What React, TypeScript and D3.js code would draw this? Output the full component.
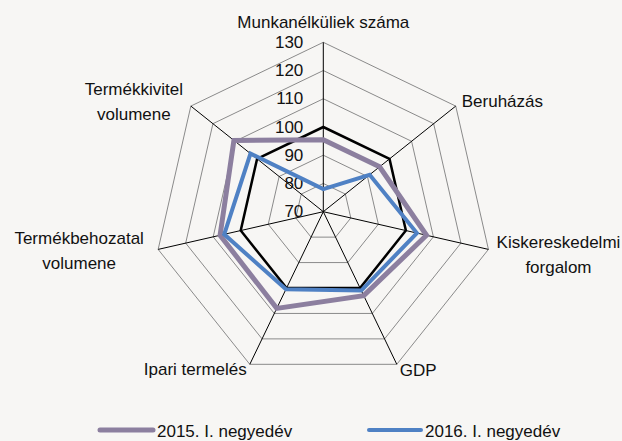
import React from "react";
import * as d3 from "d3";

const categories = [
  "Munkanélküliek száma",
  "Beruházás",
  "Kiskereskedelmi forgalom",
  "GDP",
  "Ipari termelés",
  "Termékbehozatal volumene",
  "Termékkivitel volumene",
];
const labelLines = [
  ["Munkanélküliek száma"],
  ["Beruházás"],
  ["Kiskereskedelmi", "forgalom"],
  ["GDP"],
  ["Ipari termelés"],
  ["Termékbehozatal", "volumene"],
  ["Termékkivitel", "volumene"],
];
const series2015 = [95.5, 95.5, 107.5, 103, 108, 107.5, 110.5];
const series2016 = [78, 91, 104, 101, 100.5, 106, 103];
const baseline = [100, 100, 100, 100, 100, 100, 100];
const ticks = [70, 80, 90, 100, 110, 120, 130];
const seriesNames = ["2015. I. negyedév", "2016. I. negyedév"];

const W = 622;
const H = 441;
const cx = 323.3;
const cy = 211.7;
const R = 169.4;
const FONT = "'Liberation Sans', Arial, sans-serif";

// label placement offsets per axis (anchor, dx, dy of first line baseline)
const labelPlace: [string, number, number][] = [
  ["middle", 0, -14],
  ["start", 6, 1],
  ["middle", 70, -1],
  ["start", 3, 12],
  ["end", -3, 11],
  ["middle", -79, -5],
  ["middle", -57, -11],
];

export default function App() {
  const r = d3.scaleLinear().domain([70, 130]).range([0, R]);
  const angle = d3
    .scalePoint<number>()
    .domain(d3.range(categories.length + 1))
    .range([0, 2 * Math.PI]);
  const pt = (i: number, v: number): [number, number] => {
    const a = angle(i)!;
    return [cx + r(v) * Math.sin(a), cy - r(v) * Math.cos(a)];
  };
  const closed = d3.line<[number, number]>().curve(d3.curveLinearClosed);
  const poly = (vals: number[]) => closed(vals.map((v, i) => pt(i, v)))!;

  return (
    <svg width={W} height={H} style={{ display: "block", position: "absolute", left: 0, top: 0, background: "#f7f6f4" }}>
      <rect width={W} height={H} fill="#f7f6f4" />
      {ticks.slice(1).map((t) => (
        <path key={t} d={poly(categories.map(() => t))} fill="none" stroke="#8a8a8a" strokeWidth={1} />
      ))}
      {categories.map((c, i) => {
        const [x, y] = pt(i, 130);
        return <line key={c} x1={cx} y1={cy} x2={x} y2={y} stroke="#000" strokeWidth={1} />;
      })}
      {ticks.map((t) => (
        <text key={t} x={cx - 20} y={cy - r(t)} textAnchor="end" dominantBaseline="central" fontFamily={FONT} fontSize={17} fill="#111">
          {t}
        </text>
      ))}
      <path d={poly(baseline)} fill="none" stroke="#000" strokeWidth={2.5} strokeLinejoin="miter" />
      <path d={poly(series2015)} fill="none" stroke="#8c7f9f" strokeWidth={5} strokeLinejoin="miter" />
      <path d={poly(series2016)} fill="none" stroke="#4f81c4" strokeWidth={4} strokeLinejoin="miter" />
      {labelLines.map((lines, i) => {
        const [x, y] = pt(i, 130);
        const [anchor, dx, dy] = labelPlace[i];
        return (
          <text key={i} x={x + dx} y={y + dy} textAnchor={anchor as any} fontFamily={FONT} fontSize={17} fill="#111">
            {lines.map((l, j) => (
              <tspan key={j} x={x + dx} dy={j === 0 ? 0 : 25}>
                {l}
              </tspan>
            ))}
          </text>
        );
      })}
      {/* legend */}
      <line x1={100} y1={430} x2={153} y2={430} stroke="#8c7f9f" strokeWidth={5} strokeLinecap="round" />
      <text x={157} y={437} fontFamily={FONT} fontSize={17} fill="#111">{seriesNames[0]}</text>
      <line x1={369} y1={430} x2={421} y2={430} stroke="#4f81c4" strokeWidth={4} strokeLinecap="round" />
      <text x={425} y={437} fontFamily={FONT} fontSize={17} fill="#111">{seriesNames[1]}</text>
    </svg>
  );
}
